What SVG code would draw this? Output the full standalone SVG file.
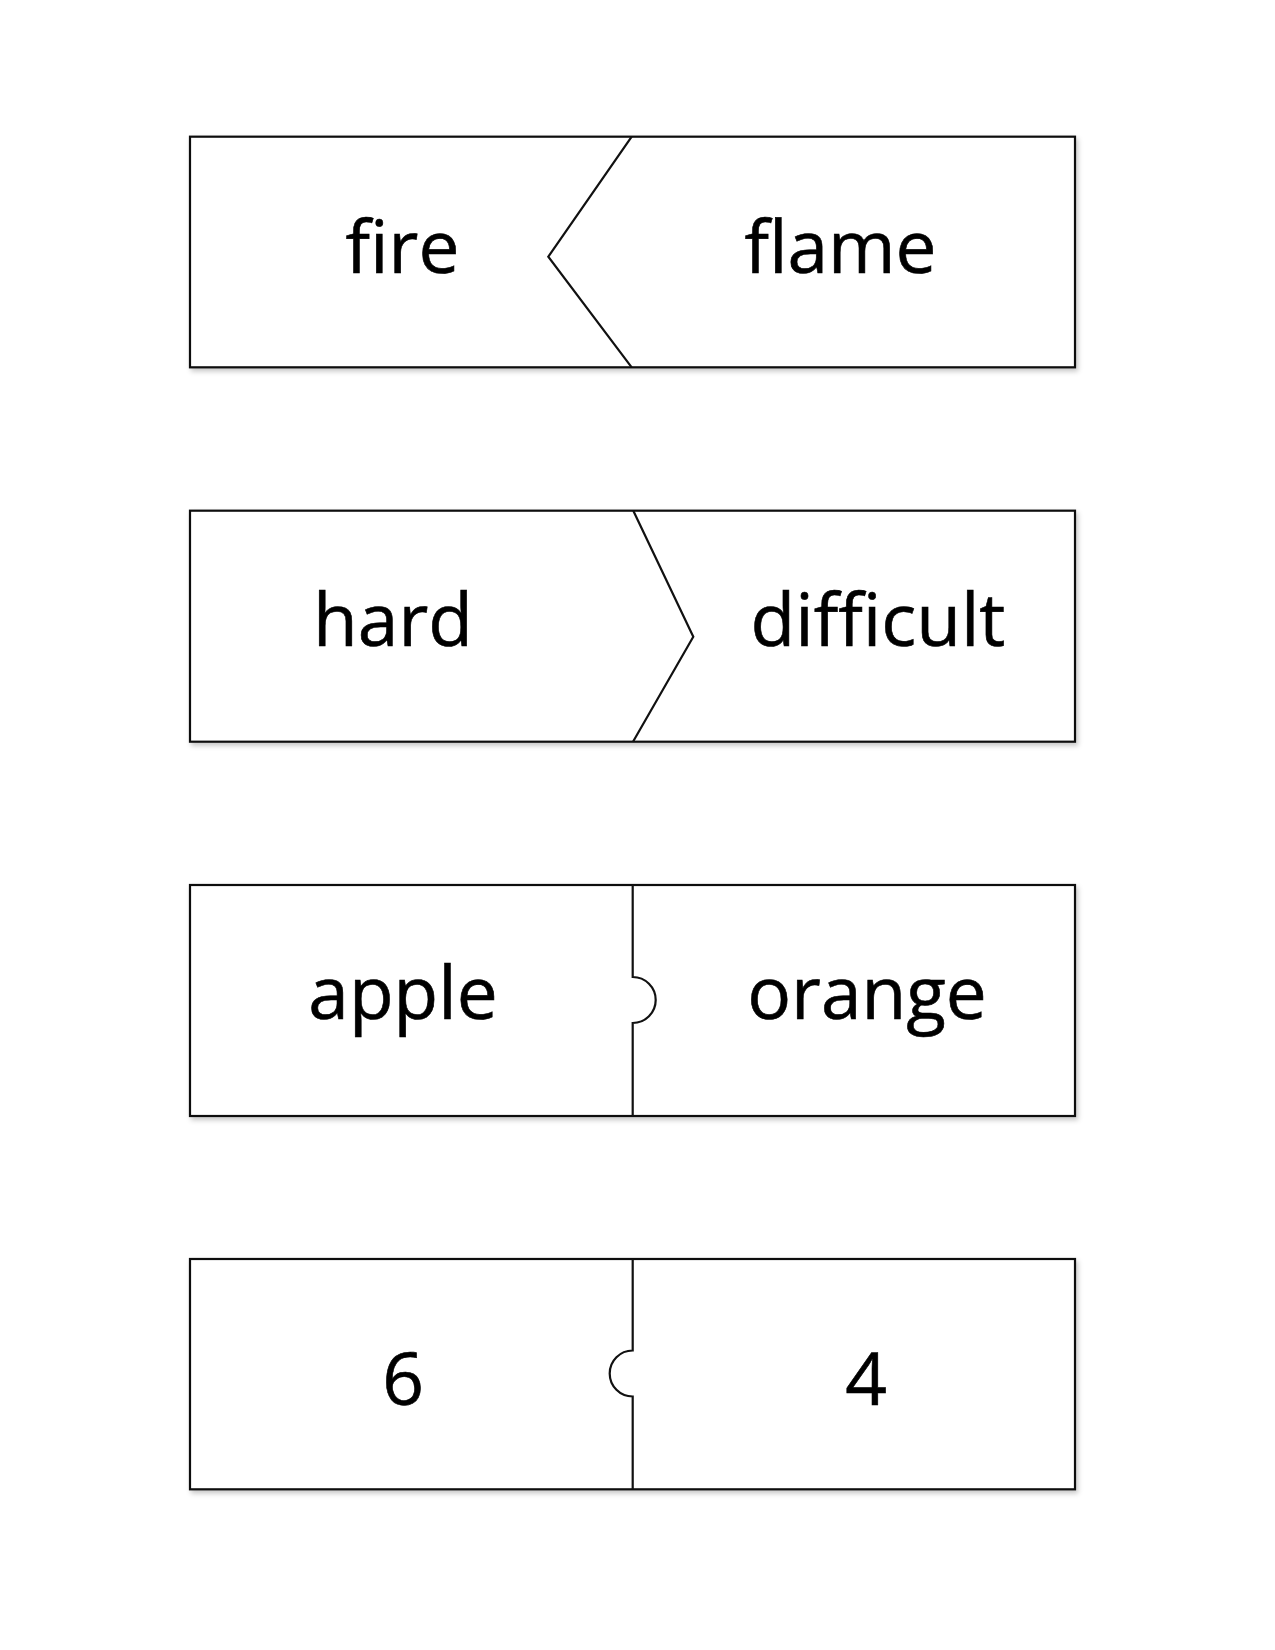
<svg xmlns="http://www.w3.org/2000/svg" width="1275" height="1650" viewBox="0 0 1275 1650">
  <defs>
    <filter id="shadow" x="-5%" y="-10%" width="110%" height="125%">
      <feDropShadow dx="2" dy="3" stdDeviation="2.5" flood-color="#000" flood-opacity="0.22"/>
    </filter>
  </defs>
  <style>
    .card { fill: #ffffff; stroke: #111111; stroke-width: 2.2; filter: url(#shadow); }
    .cut { fill: none; stroke: #111111; stroke-width: 2.2; stroke-linejoin: miter; }
    .word { font-family: "Open Sans", "Noto Sans", sans-serif; font-size: 73px; fill: #000; text-anchor: middle; stroke: #000; stroke-width: 0.6; }
  </style>
  <rect width="1275" height="1650" fill="#ffffff"/>

  <g id="card1">
    <rect class="card" x="190" y="136.7" width="885" height="230.6"/>
    <path class="cut" d="M631.7,136.7 L548.3,256.7 L631.7,367.3"/>
    <g id="card1-left"><text class="word" x="402.5" y="273">fire</text></g>
    <g id="card1-right"><text class="word" x="840.5" y="273">flame</text></g>
  </g>

  <g id="card2">
    <rect class="card" x="190" y="510.7" width="885" height="231"/>
    <path class="cut" d="M633.3,510.7 L693.3,636.7 L633,741.7"/>
    <g id="card2-left"><text class="word" x="393" y="646">hard</text></g>
    <g id="card2-right"><text class="word" x="878" y="646">difficult</text></g>
  </g>

  <g id="card3">
    <rect class="card" x="190" y="885" width="885" height="231"/>
    <path class="cut" d="M632.7,885 V977 A23,23 0 0 1 632.7,1023 V1116"/>
    <g id="card3-left"><text class="word" x="403" y="1019">apple</text></g>
    <g id="card3-right"><text class="word" x="867" y="1019">orange</text></g>
  </g>

  <g id="card4">
    <rect class="card" x="190" y="1259" width="885" height="230.3"/>
    <path class="cut" d="M632.7,1259 V1350.5 A23,23 0 0 0 632.7,1396.5 V1489.3"/>
    <g id="card4-left"><text class="word" x="403" y="1405">6</text></g>
    <g id="card4-right"><text class="word" x="866" y="1405">4</text></g>
  </g>

  <g id="connectors"/>
</svg>
